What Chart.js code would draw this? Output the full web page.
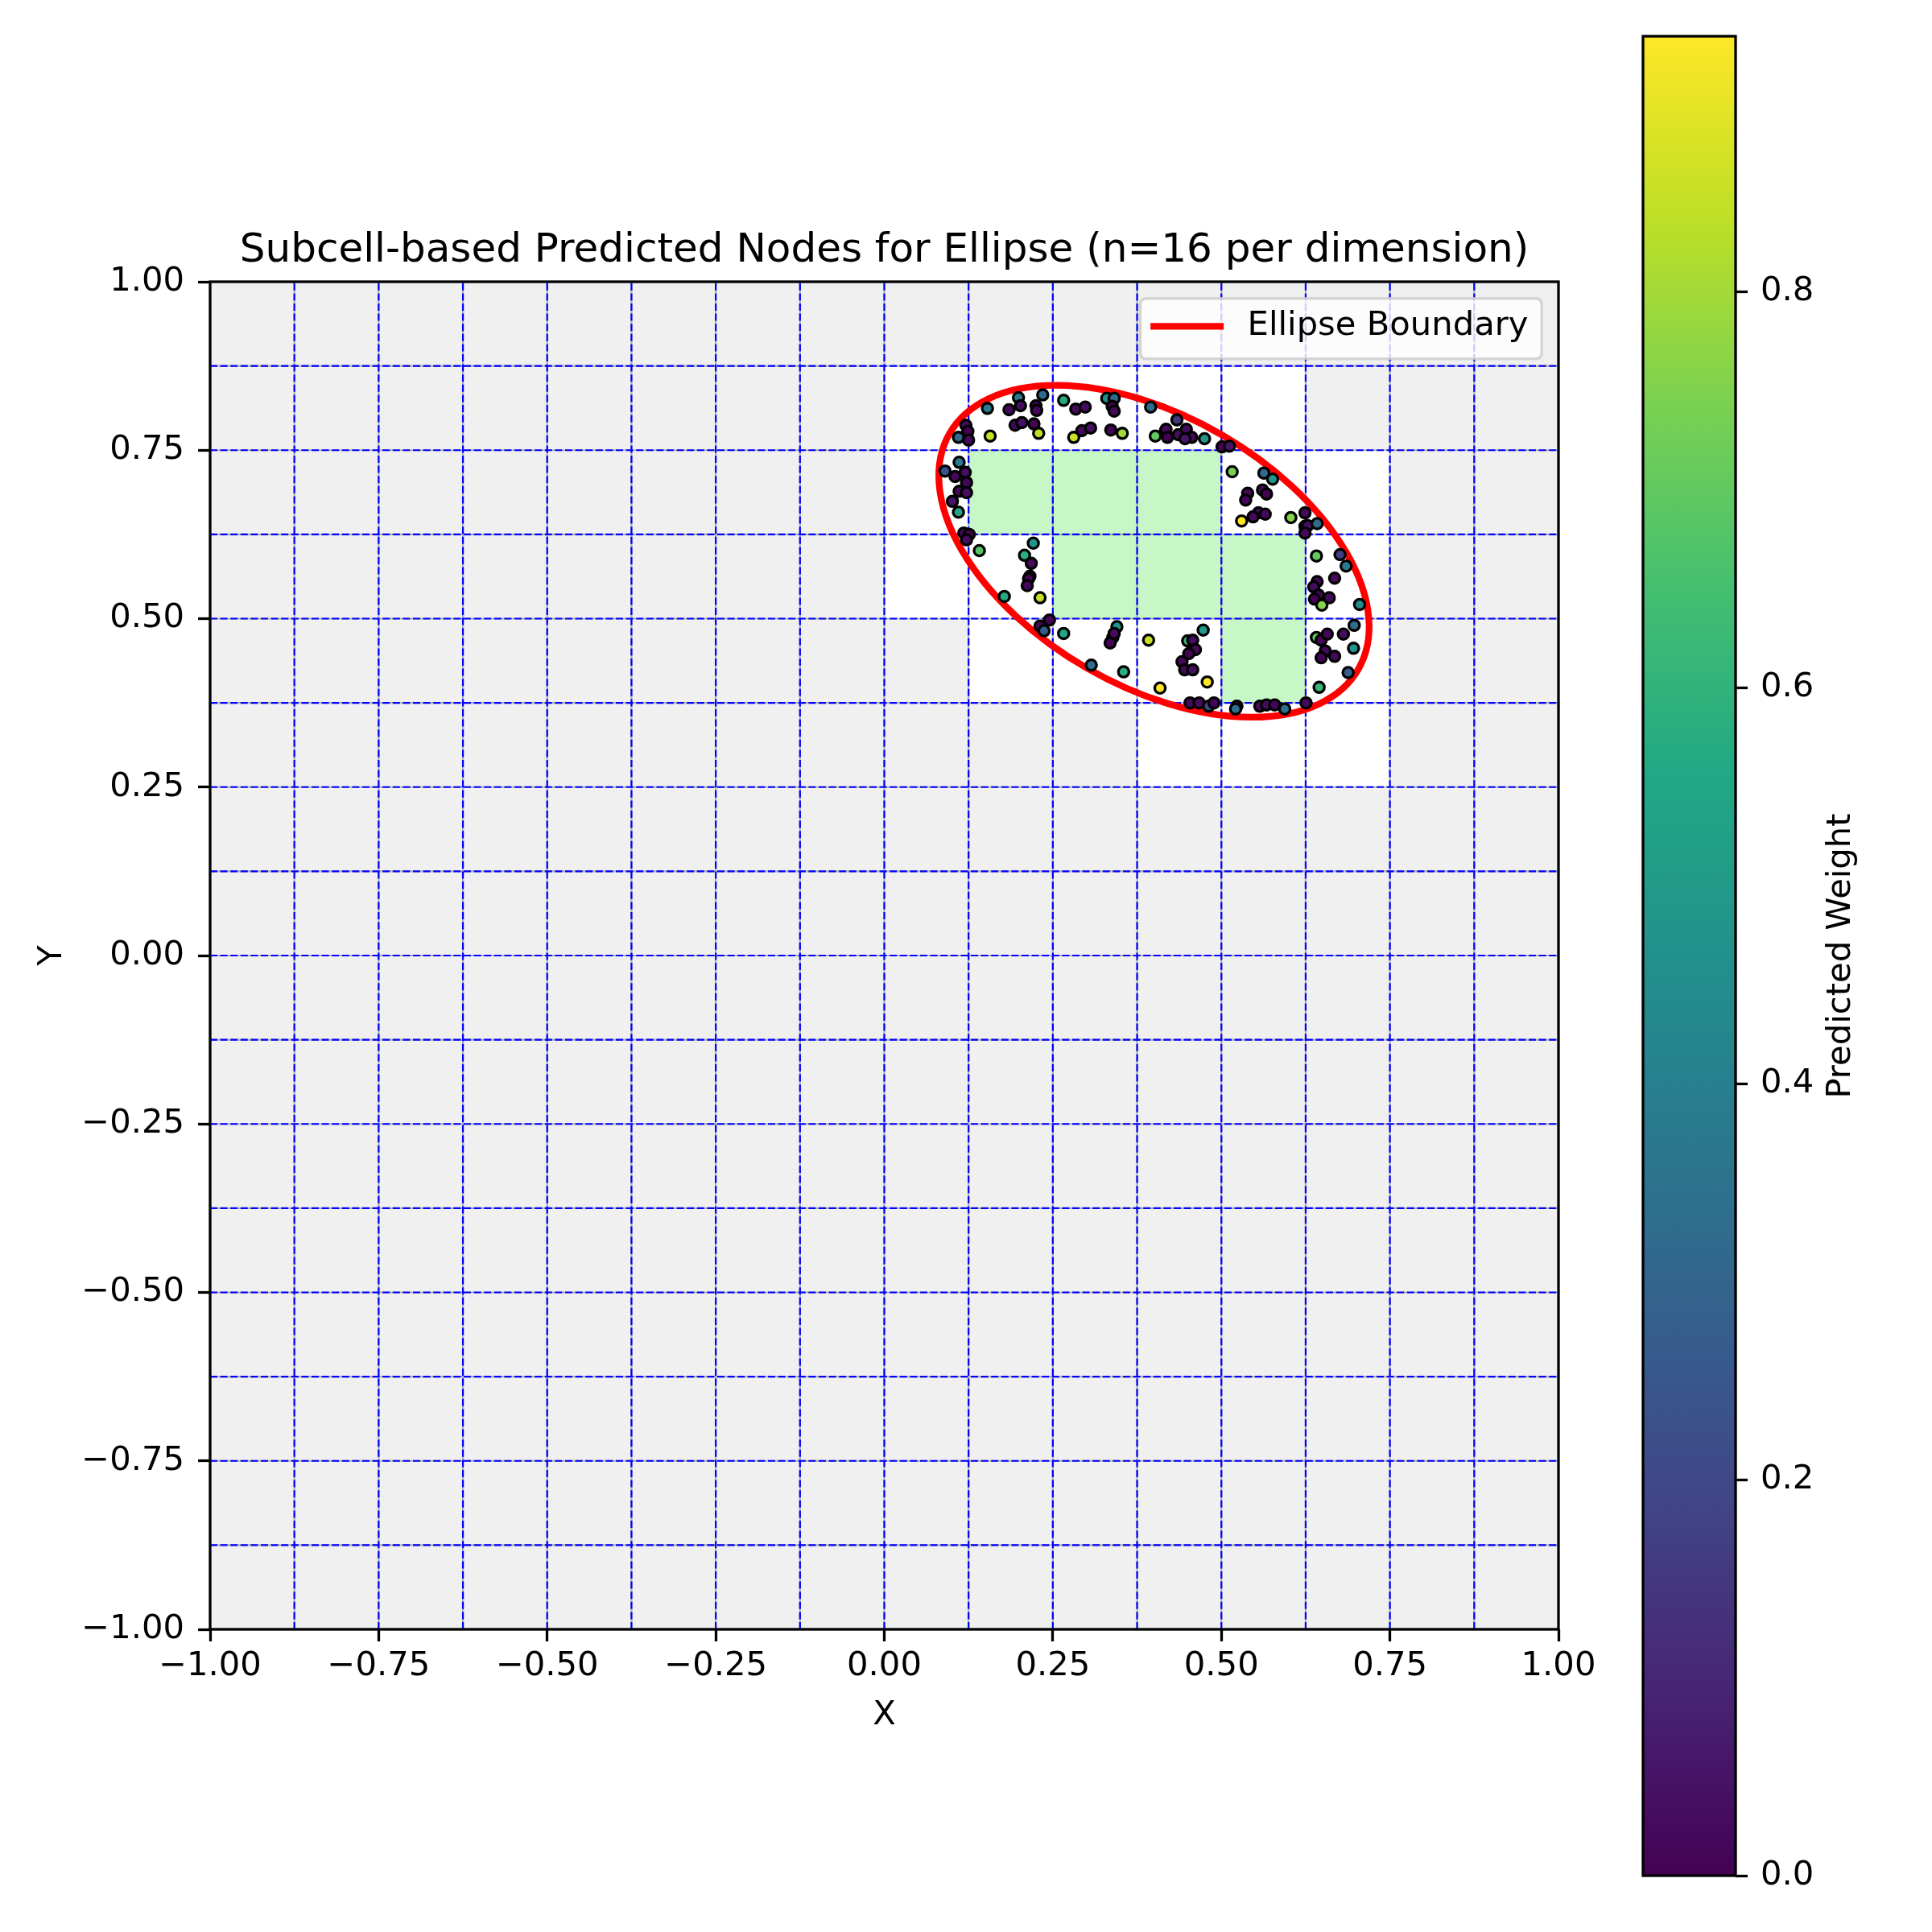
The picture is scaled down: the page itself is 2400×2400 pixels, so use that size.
<!DOCTYPE html>
<html><head><meta charset="utf-8">
<script src="https://cdn.jsdelivr.net/npm/chart.js@4.4.1/dist/chart.umd.min.js"></script>
<style>
html,body{margin:0;padding:0;background:#fff;}
#wrap{position:relative;width:2400px;height:2400px;background:#fff;}
#main{position:absolute;left:0;top:0;}
#cbar{position:absolute;left:2000px;top:0;}
</style></head><body>
<div id="wrap">
<canvas id="main" width="2400" height="2400"></canvas>
<canvas id="cbar" width="400" height="2400"></canvas>
</div>
<script>
// ---------------- data ----------------
const titleText = 'Subcell-based Predicted Nodes for Ellipse (n=16 per dimension)';
const xTicks = [-1, -0.75, -0.5, -0.25, 0, 0.25, 0.5, 0.75, 1];
const yTicks = [-1, -0.75, -0.5, -0.25, 0, 0.25, 0.5, 0.75, 1];
const cbTicks = [0, 0.2, 0.4, 0.6, 0.8];
const gridN = 16;
const gridDomain = [-1, 1];
// cell indices [i (column), j (row)] counted from -1
const interiorCells = [[9,13],[10,13],[11,13],[10,12],[11,12],[12,12],[12,11]];
const boundaryCells = [[8,14],[9,14],[10,14],[11,14],[12,14],[8,13],[12,13],[13,13],
  [8,12],[9,12],[13,12],[9,11],[10,11],[11,11],[13,11],[11,10],[12,10],[13,10]];
const ellipseCenter = [0.4, 0.6];
const ellipseAxes = [0.35, 0.2];
const ellipseAngleDeg = -30;

const nodeX = [0.199,0.235,0.266,0.153,0.185,0.202,0.225,0.226,0.284,0.298,0.330,0.341,0.338,0.341,0.395,
  0.121,0.110,0.124,0.125,0.157,0.194,0.204,0.222,0.229,0.281,0.293,0.306,0.336,0.353,0.402,0.417,
  0.434,0.418,0.420,0.436,0.448,0.456,0.446,0.475,0.501,0.512,0.516,0.563,0.576,0.539,0.536,0.561,0.567,
  0.555,0.547,0.565,0.530,0.603,0.624,0.624,0.628,0.642,0.624,
  0.111,0.090,0.105,0.120,0.122,0.111,0.122,0.101,0.110,0.118,0.126,0.122,
  0.141,0.221,0.208,0.218,0.216,0.214,0.212,0.178,0.231,0.231,0.245,0.237,0.266,0.345,0.339,0.335,0.341,
  0.307,0.355,0.392,0.409,
  0.641,0.676,0.685,0.668,0.642,0.637,0.644,0.660,0.638,0.649,0.705,0.697,
  0.473,0.450,0.4575,0.4615,0.4516,0.4416,0.4456,0.4575,0.479,
  0.641,0.648,0.657,0.681,0.654,0.648,0.668,0.696,0.688,0.645,
  0.4535,0.467,0.481,0.489,0.523,0.521,0.557,0.567,0.579,0.594,0.6255];
const nodeY = [0.828,0.832,0.824,0.812,0.810,0.816,0.816,0.809,0.811,0.814,0.827,0.827,0.815,0.808,0.814,
  0.787,0.769,0.778,0.765,0.771,0.787,0.791,0.789,0.775,0.769,0.779,0.783,0.780,0.775,0.771,0.779,
  0.795,0.781,0.769,0.773,0.781,0.769,0.767,0.767,0.755,0.756,0.718,0.716,0.707,0.686,0.676,0.691,0.685,
  0.657,0.651,0.655,0.645,0.650,0.657,0.637,0.638,0.641,0.627,
  0.732,0.719,0.711,0.717,0.702,0.689,0.687,0.674,0.658,0.627,0.625,0.617,
  0.601,0.612,0.594,0.582,0.563,0.559,0.549,0.533,0.531,0.489,0.498,0.482,0.478,0.488,0.472,0.464,0.478,
  0.431,0.421,0.468,0.397,
  0.593,0.595,0.578,0.560,0.555,0.547,0.535,0.531,0.529,0.520,0.521,0.490,
  0.483,0.467,0.468,0.454,0.448,0.436,0.424,0.424,0.406,
  0.472,0.468,0.477,0.477,0.452,0.442,0.444,0.456,0.420,0.398,
  0.375,0.375,0.370,0.375,0.370,0.366,0.370,0.372,0.372,0.366,0.375];
const nodeW = [0.38,0.32,0.56,0.38,0.02,0.03,0.01,0.02,0.02,0.03,0.46,0.32,0.01,0.02,0.33,
  0.03,0.32,0.00,0.02,0.85,0.02,0.04,0.01,0.84,0.86,0.02,0.04,0.01,0.80,0.70,0.02,
  0.14,0.02,0.00,0.03,0.02,0.02,0.05,0.48,0.01,0.05,0.74,0.32,0.48,0.02,0.01,0.02,0.00,
  0.03,0.02,0.02,0.929,0.76,0.02,0.01,0.04,0.33,0.02,
  0.38,0.24,0.02,0.03,0.01,0.02,0.04,0.05,0.55,0.02,0.00,0.03,
  0.68,0.48,0.58,0.02,0.03,0.01,0.02,0.56,0.85,0.02,0.01,0.27,0.55,0.47,0.02,0.01,0.03,
  0.33,0.58,0.85,0.929,
  0.70,0.17,0.38,0.02,0.01,0.03,0.02,0.02,0.00,0.76,0.45,0.34,
  0.50,0.62,0.03,0.02,0.01,0.02,0.02,0.04,0.929,
  0.70,0.02,0.01,0.03,0.02,0.01,0.02,0.48,0.28,0.62,
  0.02,0.03,0.20,0.01,0.02,0.33,0.02,0.03,0.01,0.33,0.02];

// ---------------- styling helpers ----------------
const FONT = "'DejaVu Sans', 'Liberation Sans', sans-serif";
const FS = 41.7;
Chart.defaults.font.family = FONT;
Chart.defaults.color = '#000';
const viridisStops = ['#440154','#482475','#414487','#355f8d','#2a788e','#21918c','#22a884','#44bf70','#7ad151','#bddf26','#fde725'];
function hexToRgb(h){ return [parseInt(h.slice(1,3),16), parseInt(h.slice(3,5),16), parseInt(h.slice(5,7),16)]; }
function viridis(t){
  t = Math.min(1, Math.max(0, t));
  const n = viridisStops.length - 1, f = t * n;
  const i = Math.min(n - 1, Math.floor(f)), u = f - i;
  const a = hexToRgb(viridisStops[i]), b = hexToRgb(viridisStops[i + 1]);
  return 'rgb(' + a.map((v, k) => Math.round(v + (b[k] - v) * u)).join(',') + ')';
}
const wMin = Math.min(...nodeW), wMax = Math.max(...nodeW);
const fmt2 = v => { const r = Math.round(v * 100) / 100; return (r < 0 ? '\u2212' : '') + Math.abs(r).toFixed(2); };

// ---------------- plugins ----------------
const cellPlugin = {
  id: 'cells',
  beforeDatasetsDraw(chart) {
    const {ctx, scales: {x: xs, y: ys}} = chart;
    const step = (gridDomain[1] - gridDomain[0]) / gridN;
    const key = (i, j) => i + ',' + j;
    const inner = new Set(interiorCells.map(c => key(c[0], c[1])));
    const bnd = new Set(boundaryCells.map(c => key(c[0], c[1])));
    ctx.save();
    for (let i = 0; i < gridN; i++) {
      for (let j = 0; j < gridN; j++) {
        const x0 = Math.round(xs.getPixelForValue(gridDomain[0] + i * step));
        const x1 = Math.round(xs.getPixelForValue(gridDomain[0] + (i + 1) * step));
        const y0 = Math.round(ys.getPixelForValue(gridDomain[0] + (j + 1) * step));
        const y1 = Math.round(ys.getPixelForValue(gridDomain[0] + j * step));
        const k = key(i, j);
        ctx.fillStyle = (inner.has(k) || bnd.has(k)) ? '#ffffff' : '#f0f0f0';
        ctx.fillRect(x0, y0, x1 - x0, y1 - y0);
        if (inner.has(k)) { ctx.fillStyle = 'rgba(144,238,144,0.5)'; ctx.fillRect(x0, y0, x1 - x0, y1 - y0); }
      }
    }
    const ca = chart.chartArea;
    for (let pass = 0; pass < 2; pass++) {
      ctx.beginPath();
      for (let k = 1; k < gridN; k++) {
        const v = gridDomain[0] + k * step;
        const px = xs.getPixelForValue(v), py = ys.getPixelForValue(v);
        ctx.moveTo(px, ca.bottom); ctx.lineTo(px, ca.top);
        ctx.moveTo(ca.left, py); ctx.lineTo(ca.right, py);
      }
      if (pass === 0) { ctx.setLineDash([]); ctx.strokeStyle = 'rgba(128,128,128,0.55)'; ctx.lineWidth = 2.2; }
      else { ctx.setLineDash([9, 3.6]); ctx.strokeStyle = '#0000ff'; ctx.lineWidth = 2.2; }
      ctx.stroke();
    }
    ctx.setLineDash([]);
    // ellipse boundary
    const cx = xs.getPixelForValue(ellipseCenter[0]), cy = ys.getPixelForValue(ellipseCenter[1]);
    const rx = Math.abs(xs.getPixelForValue(ellipseCenter[0] + ellipseAxes[0]) - cx);
    const ry = Math.abs(ys.getPixelForValue(ellipseCenter[1] + ellipseAxes[1]) - cy);
    ctx.beginPath();
    ctx.ellipse(cx, cy, rx, ry, -ellipseAngleDeg * Math.PI / 180, 0, Math.PI * 2);
    ctx.strokeStyle = '#ff0000'; ctx.lineWidth = 8.3; ctx.stroke();
    ctx.restore();
  }
};

const framePlugin = {
  id: 'frame',
  afterDraw(chart) {
    const {ctx, chartArea: ca} = chart;
    ctx.save();
    ctx.strokeStyle = '#000'; ctx.lineWidth = 3.3;
    ctx.strokeRect(ca.left, ca.top, ca.right - ca.left, ca.bottom - ca.top);
    // legend (upper right)
    const ds = chart.data.datasets.filter(d => d.type === 'line');
    ctx.font = FS + 'px ' + FONT;
    const label = ds[0].label;
    const tw = ctx.measureText(label).width;
    const pad = 20.8, bpad = 16.7, hl = 83, htp = 33.4;
    const bw = bpad + hl + htp + tw + bpad;
    const bh = 75;
    const bx = ca.right - pad - bw, by = ca.top + pad;
    const r = 8;
    ctx.beginPath();
    ctx.moveTo(bx + r, by); ctx.lineTo(bx + bw - r, by); ctx.quadraticCurveTo(bx + bw, by, bx + bw, by + r);
    ctx.lineTo(bx + bw, by + bh - r); ctx.quadraticCurveTo(bx + bw, by + bh, bx + bw - r, by + bh);
    ctx.lineTo(bx + r, by + bh); ctx.quadraticCurveTo(bx, by + bh, bx, by + bh - r);
    ctx.lineTo(bx, by + r); ctx.quadraticCurveTo(bx, by, bx + r, by);
    ctx.closePath();
    ctx.fillStyle = 'rgba(255,255,255,0.8)'; ctx.fill();
    ctx.strokeStyle = 'rgba(204,204,204,0.8)'; ctx.lineWidth = 3.5; ctx.stroke();
    const ly = by + bh / 2 - 3;
    ctx.beginPath();
    ctx.moveTo(bx + bpad - 4, ly); ctx.lineTo(bx + bpad + hl + 4, ly);
    ctx.strokeStyle = ds[0].borderColor; ctx.lineWidth = ds[0].borderWidth; ctx.lineCap = 'butt'; ctx.stroke();
    ctx.fillStyle = '#000'; ctx.textBaseline = 'middle'; ctx.textAlign = 'left';
    ctx.fillText(label, bx + bpad + hl + htp, ly);
    ctx.restore();
  }
};

// ---------------- main chart ----------------
new Chart(document.getElementById('main'), {
  type: 'scatter',
  data: {
    datasets: [
      {
        label: 'Predicted Nodes',
        data: nodeX.map((x, i) => ({x: x, y: nodeY[i]})),
        backgroundColor: nodeW.map(w => viridis((w - wMin) / (wMax - wMin))),
        borderColor: '#000', borderWidth: 3.3, pointRadius: 6.6, pointHoverRadius: 6.6
      },
      { type: 'line', label: 'Ellipse Boundary', data: [], borderColor: '#ff0000', borderWidth: 8.3 }
    ]
  },
  options: {
    responsive: false, animation: false, devicePixelRatio: 1, events: [],
    layout: {padding: {left: 0, right: 464, top: 0, bottom: 0}},
    plugins: {
      legend: {display: false}, tooltip: {enabled: false},
      title: {display: true, text: titleText, fullSize: false, color: '#000',
        font: {size: 50, weight: 'normal', family: FONT}, padding: {top: 282, bottom: 8}}
    },
    scales: {
      x: {
        type: 'linear', min: -1, max: 1,
        afterBuildTicks: s => { s.ticks = xTicks.map(v => ({value: v})); },
        afterFit: s => { s.height = 376; },
        ticks: {callback: v => fmt2(v), font: {size: FS}, color: '#000', padding: 6, maxRotation: 0, autoSkip: false},
        grid: {drawOnChartArea: false, drawTicks: true, tickLength: 15, tickWidth: 3.3, tickColor: '#000'},
        border: {display: false},
        title: {display: true, text: 'X', font: {size: FS}, color: '#000', padding: {top: 0, bottom: 244}}
      },
      y: {
        type: 'linear', min: -1, max: 1,
        afterBuildTicks: s => { s.ticks = yTicks.map(v => ({value: v})); },
        afterFit: s => { s.width = 261; },
        ticks: {callback: v => fmt2(v), font: {size: FS}, color: '#000', padding: 17, autoSkip: false},
        grid: {drawOnChartArea: false, drawTicks: true, tickLength: 15, tickWidth: 3.3, tickColor: '#000'},
        border: {display: false},
        title: {display: true, text: 'Y', font: {size: FS}, color: '#000', padding: {top: 40, bottom: 0}}
      }
    }
  },
  plugins: [cellPlugin, framePlugin]
});

// ---------------- colorbar ----------------
const cbPlugin = {
  id: 'cbframe',
  afterDraw(chart) {
    const {ctx, chartArea: ca} = chart;
    ctx.save();
    ctx.strokeStyle = '#000'; ctx.lineWidth = 3.3;
    ctx.strokeRect(ca.left, ca.top, ca.right - ca.left, ca.bottom - ca.top);
    ctx.translate(287, (ca.top + ca.bottom) / 2);
    ctx.rotate(-Math.PI / 2);
    ctx.font = FS + 'px ' + FONT; ctx.fillStyle = '#000';
    ctx.textAlign = 'center'; ctx.textBaseline = 'middle';
    ctx.fillText('Predicted Weight', 0, 0);
    ctx.restore();
  }
};
new Chart(document.getElementById('cbar'), {
  type: 'bar',
  data: {
    labels: ['Predicted Weight'],
    datasets: [{
      data: [[wMin, wMax]],
      backgroundColor: c => {
        const ca = c.chart.chartArea;
        if (!ca) return viridisStops[0];
        const g = c.chart.ctx.createLinearGradient(0, ca.bottom, 0, ca.top);
        viridisStops.forEach((s, i) => g.addColorStop(i / (viridisStops.length - 1), s));
        return g;
      },
      borderWidth: 0, barPercentage: 1, categoryPercentage: 1
    }]
  },
  options: {
    responsive: false, animation: false, devicePixelRatio: 1, events: [],
    layout: {padding: {left: 41, right: 0, top: 45, bottom: 70}},
    plugins: {legend: {display: false}, tooltip: {enabled: false}},
    scales: {
      x: {display: false},
      y: {
        position: 'right', min: wMin, max: wMax,
        afterBuildTicks: s => { s.ticks = cbTicks.map(v => ({value: v})); },
        afterFit: s => { s.width = 244; },
        ticks: {callback: v => v.toFixed(1), font: {size: FS}, color: '#000', padding: 16},
        grid: {drawOnChartArea: false, drawTicks: true, tickLength: 15, tickWidth: 3.3, tickColor: '#000'},
        border: {display: false}
      }
    }
  },
  plugins: [cbPlugin]
});
</script>
</body></html>
